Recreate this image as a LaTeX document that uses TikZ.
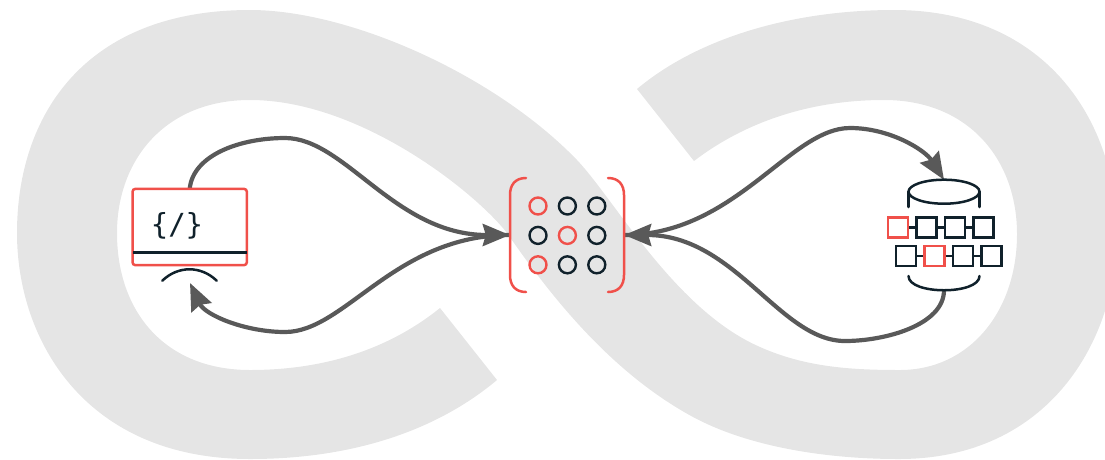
\documentclass[tikz,border=0pt]{standalone}
\usepackage{fontspec}
\setmonofont{DejaVu Sans Mono}
\usetikzlibrary{positioning,arrows.meta}
\definecolor{loopgray}{HTML}{E5E5E5}
\definecolor{flowgray}{HTML}{595959}
\definecolor{accent}{HTML}{F0504A}
\definecolor{ink}{HTML}{10212B}

\begin{document}
\begin{tikzpicture}[%
    x=1pt,
    y=-1pt,
    node distance=9pt,
    flow/.style={%
      -{Stealth[length=27pt,width=22pt,inset=3pt]},
      line width=4.2pt,
      flowgray
    },
    dot/.style={%
      circle,
      minimum size=17pt,
      inner sep=0pt,
      line width=2.4pt,
      draw=ink
    },
    reddot/.style={dot,draw=accent},
    cell/.style={%
      rectangle,
      minimum size=20pt,
      inner sep=0pt,
      line width=2.5pt,
      draw=ink
    },
    redcell/.style={cell,draw=accent},
    link/.style={line width=2.5pt,ink},
    inkline/.style={line width=2.5pt,ink,line cap=round},
    redline/.style={line width=2.5pt,accent,line cap=round},
    holder/.style={rectangle,inner sep=0pt}
  ]
    \useasboundingbox (0,0) rectangle (1105,459);

    % infinity band
    \begin{scope}
      \clip (0,0) rectangle (1105,459);
      \fill[loopgray] (497,380)
        .. controls (435,432) and (350,459) .. (250,459)
        .. controls (85,459) and (17,340) .. (17,233)
        .. controls (17,115) and (85,10) .. (250,10)
        .. controls (350,10) and (495,75) .. (577,160)
        .. controls (615,200) and (675,310) .. (760,347)
        .. controls (805,367) and (850,370) .. (900,370)
        .. controls (969,370) and (1017,312) .. (1017,234)
        .. controls (1017,160) and (969,100) .. (884,100)
        .. controls (810,100) and (745,122) .. (694,161)
        -- (637,89)
        .. controls (699,37) and (794,10) .. (894,10)
        .. controls (1049,10) and (1117,125) .. (1117,234)
        .. controls (1117,340) and (1049,459) .. (899,459)
        .. controls (820,459) and (745,445) .. (693,417)
        .. controls (610,372) and (550,295) .. (507,233)
        .. controls (475,192) and (360,100) .. (250,100)
        .. controls (165,100) and (117,160) .. (117,233)
        .. controls (117,312) and (165,370) .. (250,370)
        .. controls (325,370) and (389,349) .. (440,308)
        -- cycle;
    \end{scope}

    \node[holder,minimum width=114pt,minimum height=76pt] (screen) at (189.7,227) {};
    \node[holder,minimum width=114pt,minimum height=114pt] (grid) at (567,235) {};
    \node[holder,minimum width=72pt,minimum height=110pt] (db) at (944,235) {};
    \coordinate (base) at (190,283);

    % arrows
    \draw[flow] (screen.north)
      .. controls (193,155) and (240,138) .. (285,138)
      .. controls (345,138) and (395,235) .. (grid.west);
    \draw[flow] (grid.west)
      .. controls (395,235) and (345,332) .. (285,332)
      .. controls (245,332) and (205,315) .. (base);
    \draw[flow] (grid.east)
      .. controls (735,235) and (790,128) .. (850,128)
      .. controls (890,128) and (925,150) .. (db.north);
    \draw[flow] (db.south)
      .. controls (944,325) and (885,341) .. (845,341)
      .. controls (780,341) and (735,235) .. (grid.east);

    % screen
    \draw[redline,rounded corners=3pt] (screen.north west) rectangle (screen.south east);
    \draw[inkline,line cap=butt] (133,252.3) -- (246.5,252.3);
    \node[text=ink,font=\ttfamily\fontsize{29}{29}\selectfont,inner sep=0pt] (code) at (177,226) {\{/\}};
    \draw[inkline] (162.3,280.7) .. controls (178,265.5) and (201,265.5) .. (216.7,280.7);

    % brackets
    \draw[redline] (526,178) .. controls (515,178) and (510,185) .. (510,195)
      -- (510,275) .. controls (510,285) and (515,292) .. (526,292);
    \draw[redline] (608,178) .. controls (619,178) and (624,185) .. (624,195)
      -- (624,275) .. controls (624,285) and (619,292) .. (608,292);

    % dots
    \node[reddot] (d11) at (538,206) {};
    \node[dot] (d12) [right=10pt of d11] {};
    \node[dot] (d13) [right=10pt of d12] {};
    \node[dot] (d21) [below=10pt of d11] {};
    \node[reddot] (d22) [right=10pt of d21] {};
    \node[dot] (d23) [right=10pt of d22] {};
    \node[reddot] (d31) [below=10pt of d21] {};
    \node[dot] (d32) [right=10pt of d31] {};
    \node[dot] (d33) [right=10pt of d32] {};

    % cylinder
    \draw[inkline] (944,191.7) ellipse (35.5 and 12);
    \draw[inkline] (908.5,191.7) -- (908.5,207);
    \draw[inkline] (979.5,191.7) -- (979.5,207);
    \draw[inkline] (908.5,276) .. controls (908.5,295) and (979.5,295) .. (979.5,276);

    % cells
    \node[redcell] (a1) at (898,227.3) {};
    \node[cell] (a2) [right=6pt of a1] {};
    \node[cell] (a3) [right=6pt of a2] {};
    \node[cell] (a4) [right=6pt of a3] {};
    \node[cell] (b1) at (906,256) {};
    \node[redcell] (b2) [right=6pt of b1] {};
    \node[cell] (b3) [right=6pt of b2] {};
    \node[cell] (b4) [right=6pt of b3] {};

    \path[link] (a1) edge (a2)
          (a2) edge (a3)
          (a3) edge (a4)
          (b1) edge (b2)
          (b2) edge (b3)
          (b3) edge (b4);
\end{tikzpicture}
\end{document}
